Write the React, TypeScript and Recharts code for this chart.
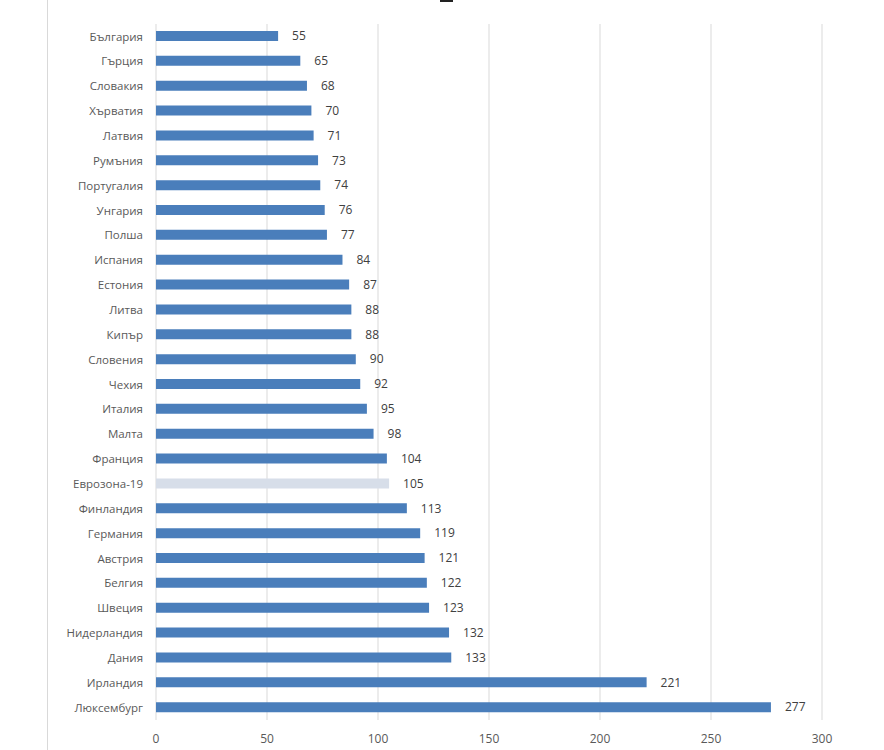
import React from 'react';
import { BarChart, Bar, XAxis, YAxis, CartesianGrid, LabelList, Cell } from 'recharts';

const countries = [
  'България', 'Гърция', 'Словакия', 'Хърватия', 'Латвия', 'Румъния', 'Португалия',
  'Унгария', 'Полша', 'Испания', 'Естония', 'Литва', 'Кипър', 'Словения', 'Чехия',
  'Италия', 'Малта', 'Франция', 'Еврозона-19', 'Финландия', 'Германия', 'Австрия',
  'Белгия', 'Швеция', 'Нидерландия', 'Дания', 'Ирландия', 'Люксембург',
];
const values = [
  55, 65, 68, 70, 71, 73, 74, 76, 77, 84, 87, 88, 88, 90, 92,
  95, 98, 104, 105, 113, 119, 121, 122, 123, 132, 133, 221, 277,
];
const highlighted = ['Еврозона-19'];
const xTicks = [0, 50, 100, 150, 200, 250, 300];

const data = countries.map((name, i) => ({ name, value: values[i] }));

const FONT = '"Open Sans", "Noto Sans", sans-serif';

export default function App() {
  return (
    <div style={{ position: 'absolute', left: 0, top: 0, width: 884, height: 750, background: '#fff' }}>
      <div style={{ position: 'absolute', left: 47, top: 0, width: 1, height: 750, background: '#d9d9d9' }} />
      <div style={{ position: 'absolute', left: 440, top: 0, width: 13, height: 2, background: '#222' }} />
      <BarChart
        width={884}
        height={750}
        data={data}
        layout="vertical"
        margin={{ top: 24, right: 62, bottom: 0, left: 0 }}
        barSize={10}
      >
        <CartesianGrid horizontal={false} vertical={true} stroke="#d9d9d9" strokeWidth={1} />
        <XAxis
          type="number"
          domain={[0, 300]}
          ticks={xTicks}
          axisLine={false}
          tickLine={false}
          tickMargin={8}
          height={30}
          tick={{ fill: '#595959', fontSize: 12, fontFamily: FONT }}
        />
        <YAxis
          type="category"
          dataKey="name"
          width={156}
          axisLine={false}
          tickLine={false}
          tickMargin={7}
          interval={0}
          tick={{ fill: '#595959', fontSize: 11.5, fontFamily: FONT }}
        />
        <Bar dataKey="value" fill="#4a7ebb" isAnimationActive={false}>
          {data.map((d) => (
            <Cell key={d.name} fill={highlighted.includes(d.name) ? '#d7dee9' : '#4a7ebb'} />
          ))}
          <LabelList
            dataKey="value"
            position="right"
            offset={14}
            style={{ fill: '#404040', fontSize: 12, fontFamily: FONT }}
          />
        </Bar>
      </BarChart>
    </div>
  );
}
